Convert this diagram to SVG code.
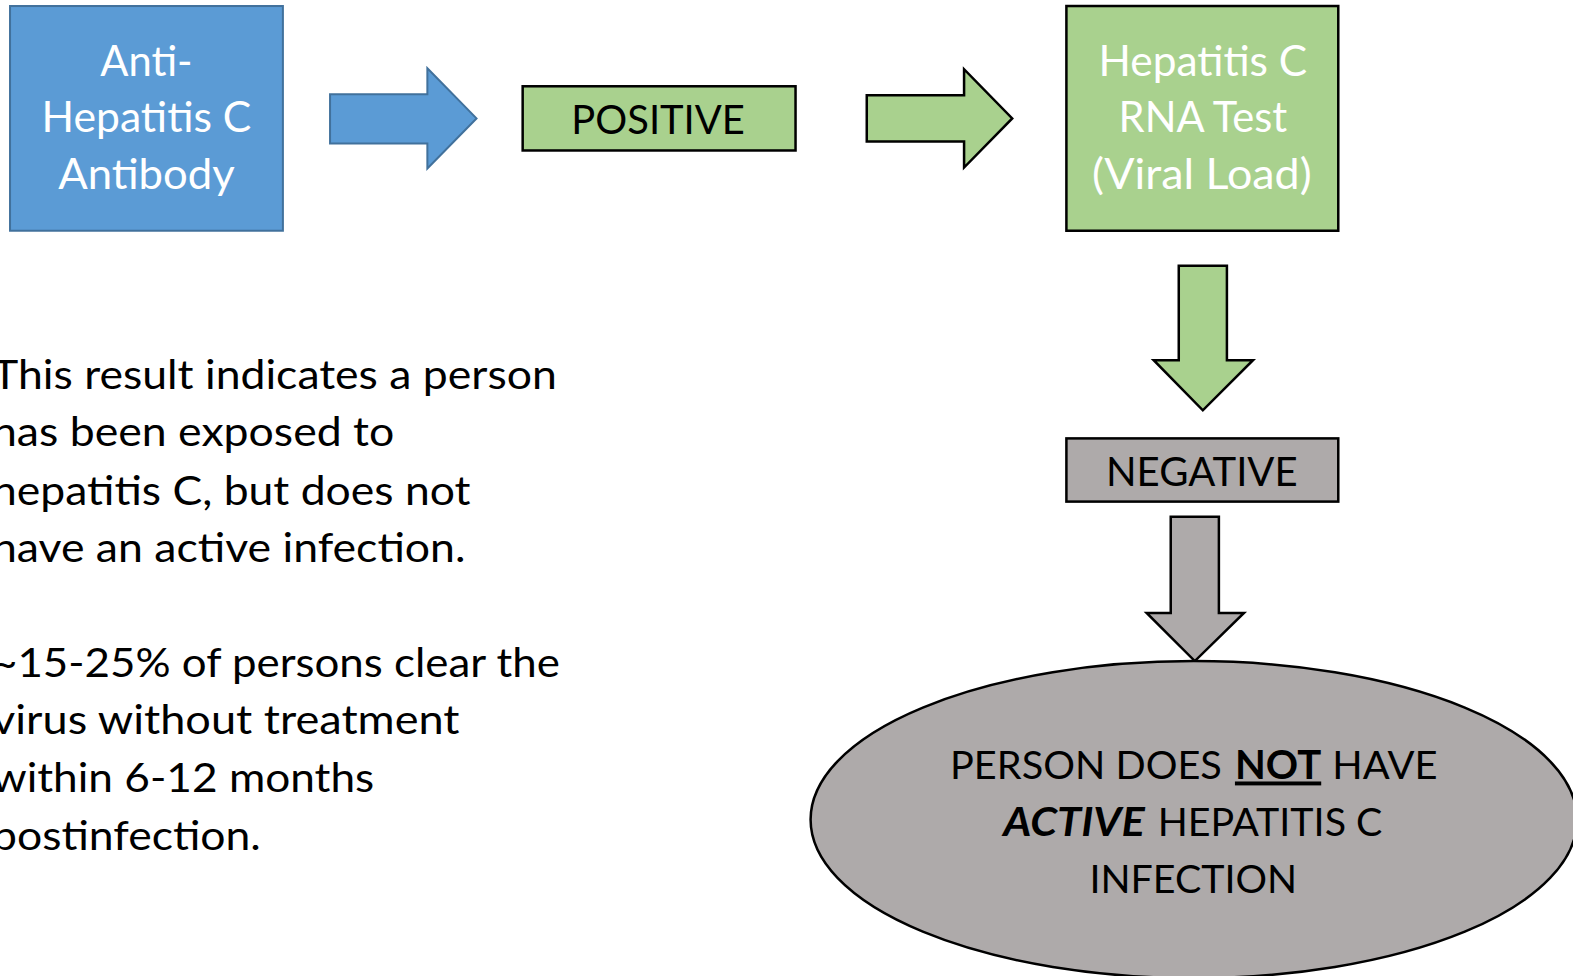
<svg xmlns="http://www.w3.org/2000/svg" width="1573" height="976" viewBox="0 0 1573 976">
<style>
text{font-family:Lato,"Open Sans","Liberation Sans",sans-serif;}
.w{fill:#ffffff;font-size:42px;text-anchor:middle;}
.k{fill:#000000;font-size:40px;}
.e{fill:#000000;font-size:39px;}
.blue{fill:#5b9bd5;stroke:#41719c;stroke-width:2;}
.green{fill:#a9d18e;stroke:#000;stroke-width:2.5;}
.gray{fill:#aeaaaa;stroke:#000;stroke-width:2.5;}
</style>
<rect width="1573" height="976" fill="#ffffff"/>
<g transform="scale(1.0032)">
<g id="connectors">
<polygon class="blue" points="329,94 426,94 426,68 475,118 426,168 426,143 329,143"/>
<polygon class="green" points="864,95 961,95 961,69 1009,118 961,167 961,141 864,141"/>
<polygon class="green" points="1175,265 1223,265 1223,359 1249,359 1199,409 1150,359 1175,359"/>
<polygon class="gray" points="1167,515 1215,515 1215,611 1240,611 1191,659 1143,611 1167,611"/>
</g>
<g id="antibody">
<rect class="blue" x="10" y="6" width="272" height="224"/>
<text class="w" x="146" y="76" textLength="92" lengthAdjust="spacingAndGlyphs">Anti-</text>
<text class="w" x="146" y="132" textLength="209" lengthAdjust="spacingAndGlyphs">Hepatitis C</text>
<text class="w" x="146" y="188" textLength="176" lengthAdjust="spacingAndGlyphs">Antibody</text>
</g>
<g id="positive">
<rect class="green" x="521" y="86" width="272" height="64"/>
<text class="k" x="656" y="134" text-anchor="middle" font-size="41" textLength="173" lengthAdjust="spacingAndGlyphs">POSITIVE</text>
</g>
<g id="rnatest">
<rect class="green" x="1063" y="6" width="271" height="224"/>
<text class="w" x="1199" y="76" textLength="208" lengthAdjust="spacingAndGlyphs">Hepatitis C</text>
<text class="w" x="1199" y="132" textLength="168" lengthAdjust="spacingAndGlyphs">RNA Test</text>
<text class="w" x="1198" y="188" textLength="219" lengthAdjust="spacingAndGlyphs">(Viral Load)</text>
</g>
<g id="negative">
<rect class="gray" x="1063" y="437" width="271" height="63"/>
<text class="k" x="1198" y="484" text-anchor="middle" font-size="41" textLength="191" lengthAdjust="spacingAndGlyphs">NEGATIVE</text>
</g>
<g id="result">
<ellipse class="gray" cx="1190" cy="817" rx="382" ry="158"/>
<text class="e" x="947" y="777" textLength="271" lengthAdjust="spacingAndGlyphs">PERSON DOES</text>
<text class="e" x="1231" y="777" font-weight="bold" text-decoration="underline" textLength="86" lengthAdjust="spacingAndGlyphs">NOT</text>
<text class="e" x="1328" y="777" textLength="105" lengthAdjust="spacingAndGlyphs">HAVE</text>
<text class="e" x="1000" y="833" font-weight="bold" font-style="italic" textLength="141" lengthAdjust="spacingAndGlyphs">ACTIVE</text>
<text class="e" x="1154" y="833" textLength="224" lengthAdjust="spacingAndGlyphs">HEPATITIS C</text>
<text class="e" x="1086" y="890" textLength="207" lengthAdjust="spacingAndGlyphs">INFECTION</text>
</g>
<g id="explanation">
<text class="k" x="-8" y="388" textLength="563" lengthAdjust="spacingAndGlyphs">This result indicates a person</text>
<text class="k" x="-8" y="445" textLength="401" lengthAdjust="spacingAndGlyphs">has been exposed to</text>
<text class="k" x="-8" y="503" textLength="477" lengthAdjust="spacingAndGlyphs">hepatitis C, but does not</text>
<text class="k" x="-8" y="560" textLength="472" lengthAdjust="spacingAndGlyphs">have an active infection.</text>
<text class="k" x="-8" y="675" textLength="566" lengthAdjust="spacingAndGlyphs">~15-25% of persons clear the</text>
<text class="k" x="-8" y="732" textLength="466" lengthAdjust="spacingAndGlyphs">virus without treatment</text>
<text class="k" x="-8" y="789" textLength="381" lengthAdjust="spacingAndGlyphs">within 6-12 months</text>
<text class="k" x="-8" y="847" textLength="268" lengthAdjust="spacingAndGlyphs">postinfection.</text>
</g>
</g>
</svg>
